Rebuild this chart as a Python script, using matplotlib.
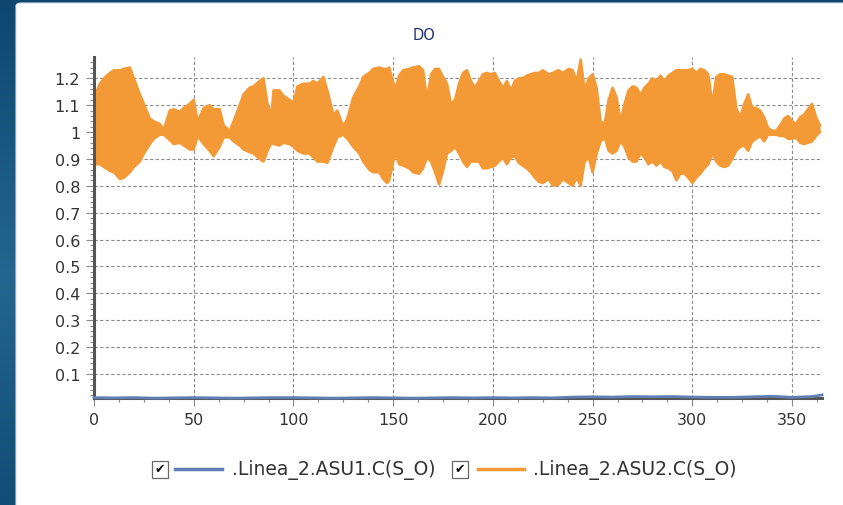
import numpy as np
import matplotlib
matplotlib.use("Agg")
import matplotlib.pyplot as plt
from matplotlib.lines import Line2D
from matplotlib.patches import FancyBboxPatch, Rectangle
from matplotlib.ticker import MultipleLocator, FuncFormatter

# ASU2 dissolved oxygen: upper / lower envelope of the oscillating signal
env_days = [0, 3, 5, 8, 10, 13, 15, 18, 20, 23, 25, 28, 30, 33, 35, 38, 40, 43, 45, 48,
            50, 52, 55, 58, 60, 63, 65, 68, 70, 73, 75, 78, 80, 83, 85, 87, 89, 90, 93, 95,
            98, 100, 102, 105, 108, 110, 112, 115, 117, 120, 122, 125, 127, 130, 133, 135,
            138, 140, 143, 145, 147, 148, 151, 153, 155, 158, 160, 163, 165, 167, 169, 171,
            173, 175, 177, 179, 181, 183, 185, 187, 189, 191, 193, 195, 197, 199, 201, 203,
            205, 207, 209, 211, 213, 215, 217, 219, 221, 223, 225, 228, 230, 233, 235, 238,
            240, 242, 244, 246, 248, 250, 252, 254, 256, 258, 260, 262, 264, 266, 268, 270,
            272, 274, 276, 278, 280, 282, 284, 286, 288, 290, 292, 294, 296, 298, 300, 302,
            304, 306, 308, 310, 312, 314, 316, 318, 320, 322, 324, 326, 328, 330, 332, 334,
            336, 338, 340, 342, 344, 346, 348, 350, 352, 354, 356, 358, 360, 362, 364]
asu2_high = [1.13, 1.18, 1.20, 1.22, 1.23, 1.23, 1.235, 1.24, 1.20, 1.14, 1.105, 1.05, 1.04,
             1.03, 1.01, 1.08, 1.085, 1.075, 1.09, 1.105, 1.12, 1.04, 1.09, 1.10, 1.085,
             1.085, 1.025, 1.005, 1.04, 1.10, 1.14, 1.165, 1.17, 1.19, 1.20, 1.105, 1.065,
             1.155, 1.155, 1.135, 1.12, 1.11, 1.17, 1.18, 1.18, 1.19, 1.18, 1.205, 1.155,
             1.065, 1.08, 1.02, 1.05, 1.13, 1.17, 1.205, 1.22, 1.235, 1.24, 1.235, 1.235,
             1.24, 1.16, 1.21, 1.23, 1.235, 1.24, 1.245, 1.23, 1.12, 1.215, 1.235, 1.235,
             1.205, 1.18, 1.105, 1.12, 1.18, 1.22, 1.23, 1.19, 1.165, 1.19, 1.215, 1.22,
             1.215, 1.22, 1.19, 1.165, 1.19, 1.155, 1.19, 1.20, 1.20, 1.21, 1.215, 1.22,
             1.22, 1.23, 1.215, 1.22, 1.23, 1.22, 1.235, 1.23, 1.19, 1.27, 1.155, 1.20,
             1.215, 1.165, 1.04, 1.03, 1.12, 1.165, 1.13, 1.04, 1.105, 1.155, 1.17, 1.165,
             1.14, 1.165, 1.18, 1.20, 1.19, 1.21, 1.19, 1.21, 1.22, 1.23, 1.23, 1.23, 1.23,
             1.235, 1.22, 1.235, 1.23, 1.215, 1.105, 1.205, 1.215, 1.215, 1.21, 1.205, 1.09,
             1.055, 1.105, 1.14, 1.09, 1.09, 1.08, 1.055, 1.015, 1.005, 1.005, 1.025, 1.05,
             1.06, 1.04, 1.03, 1.055, 1.065, 1.085, 1.105, 1.055, 1.025]
asu2_low = [0.88, 0.88, 0.87, 0.855, 0.85, 0.825, 0.83, 0.85, 0.87, 0.89, 0.92, 0.955, 0.975,
            0.99, 0.99, 0.97, 0.955, 0.96, 0.95, 0.935, 0.935, 0.985, 0.955, 0.93, 0.91,
            0.945, 0.98, 0.98, 0.965, 0.95, 0.935, 0.925, 0.92, 0.90, 0.89, 0.93, 0.96,
            0.955, 0.95, 0.96, 0.955, 0.945, 0.93, 0.92, 0.92, 0.905, 0.89, 0.89, 0.885,
            0.945, 0.98, 0.99, 0.975, 0.945, 0.92, 0.89, 0.86, 0.85, 0.85, 0.825, 0.81,
            0.82, 0.92, 0.88, 0.875, 0.865, 0.85, 0.845, 0.865, 0.905, 0.89, 0.85, 0.805,
            0.855, 0.92, 0.93, 0.945, 0.92, 0.89, 0.87, 0.89, 0.89, 0.89, 0.865, 0.865,
            0.87, 0.875, 0.89, 0.905, 0.88, 0.905, 0.91, 0.885, 0.875, 0.865, 0.85, 0.83,
            0.815, 0.81, 0.825, 0.80, 0.805, 0.825, 0.81, 0.80, 0.83, 0.80, 0.89, 0.905,
            0.85, 0.92, 0.965, 0.98, 0.93, 0.92, 0.93, 0.965, 0.945, 0.905, 0.89, 0.89,
            0.92, 0.905, 0.88, 0.89, 0.875, 0.89, 0.87, 0.865, 0.855, 0.82, 0.845, 0.845,
            0.83, 0.81, 0.83, 0.845, 0.865, 0.88, 0.92, 0.89, 0.875, 0.87, 0.875, 0.90,
            0.93, 0.945, 0.95, 0.93, 0.965, 0.975, 0.985, 0.965, 0.99, 0.99, 0.99, 0.985,
            0.985, 0.975, 0.975, 0.98, 0.96, 0.955, 0.96, 0.965, 0.985, 1.0]

# ASU1 dissolved oxygen (almost zero all year)
asu1_days = [0, 10, 20, 30, 40, 50, 60, 70, 80, 90, 100, 110, 120, 130, 140, 150, 160, 170,
             180, 190, 200, 210, 220, 230, 240, 250, 260, 270, 280, 290, 300, 310, 320, 330,
             340, 350, 360, 365]
asu1_vals = [0.012, 0.011, 0.012, 0.010, 0.011, 0.012, 0.011, 0.010, 0.011, 0.012, 0.012,
             0.011, 0.010, 0.011, 0.012, 0.011, 0.010, 0.011, 0.012, 0.011, 0.012, 0.011,
             0.012, 0.011, 0.014, 0.015, 0.014, 0.016, 0.015, 0.016, 0.014, 0.013, 0.013,
             0.015, 0.017, 0.013, 0.016, 0.022]

title = "DO"
label_asu1 = ".Linea_2.ASU1.C(S_O)"
label_asu2 = ".Linea_2.ASU2.C(S_O)"

ORANGE = "#f39a37"
BLUE = "#5f7fb6"

W, H = 843, 506
fig = plt.figure(figsize=(W / 100, H / 100), dpi=100)

# dark blue window background with white rounded panel
bg = fig.add_axes([0, 0, 1, 1])
grad = np.linspace(0, 1, 256)
shade = 1 - np.abs(grad - 0.55) * 1.6
bg.imshow(shade[:, None], aspect="auto", cmap=plt.cm.colors.LinearSegmentedColormap.from_list(
    "bgblue", ["#0a426a", "#24668f"]), extent=[0, 1, 0, 1], vmin=0, vmax=1)
bg.set_xlim(0, 1)
bg.set_ylim(0, 1)
bg.axis("off")
bg.add_patch(FancyBboxPatch((16 / W, -0.05), 1.0, 1 - 4 / H + 0.05,
                            boxstyle="round,pad=0,rounding_size=0.006",
                            facecolor="white", edgecolor="#d8dde3", linewidth=0.8,
                            transform=bg.transAxes))

ax = fig.add_axes([94 / W, 1 - 399.3 / H, (822 - 94) / W, (399.3 - 58.3) / H])
ax.set_facecolor("none")

ax.fill_between(env_days, asu2_low, asu2_high, color=ORANGE, linewidth=0, zorder=3)
ax.plot(env_days, asu2_high, color=ORANGE, linewidth=1.8, zorder=3)
ax.plot(env_days, asu2_low, color=ORANGE, linewidth=1.8, zorder=3)
ax.plot(asu1_days, asu1_vals, color=BLUE, linewidth=2, zorder=6, clip_on=False)

ax.set_xlim(0, 365)
ax.set_ylim(0.0095, 1.278)
ax.xaxis.set_major_locator(MultipleLocator(50))
ax.xaxis.set_minor_locator(MultipleLocator(12.5))
ax.yaxis.set_major_locator(MultipleLocator(0.1))
ax.yaxis.set_minor_locator(MultipleLocator(0.02))
ax.yaxis.set_major_formatter(FuncFormatter(lambda v, p: f"{v:g}"))

ax.grid(True, which="major", color="#8c8c8c", linestyle=(0, (3, 2)), linewidth=0.8, zorder=1)
for s in ["top", "right"]:
    ax.spines[s].set_visible(False)
for s in ["left", "bottom"]:
    ax.spines[s].set_color("#555555")
    ax.spines[s].set_linewidth(2.2)
    ax.spines[s].set_zorder(5)

ax.tick_params(which="major", length=6, width=0.8, color="#8a8a8a",
               labelsize=11.5, labelcolor="#333333", pad=4)
ax.tick_params(which="minor", length=3, width=0.8, color="#8a8a8a")

fig.text(424 / W, 1 - 35 / H, title, ha="center", va="center", fontsize=10.5,
         color="#23336b")

# legend with check boxes
leg_y = 1 - 470 / H
for bx, lx0, lx1, tx, col, lab in [(152, 175, 222, 232, BLUE, label_asu1),
                                   (452, 478, 524, 533, ORANGE, label_asu2)]:
    fig.add_artist(Rectangle((bx / W, 1 - 479 / H), 16 / W, 17 / H, transform=fig.transFigure,
                             facecolor="white", edgecolor="#6a6a6a", linewidth=0.9))
    fig.text((bx + 8) / W, leg_y, "\u2714", ha="center", va="center", fontsize=9,
             color="#111111")
    fig.add_artist(Line2D([lx0 / W, lx1 / W], [leg_y, leg_y], transform=fig.transFigure,
                          color=col, linewidth=2.5))
    fig.text(tx / W, leg_y, lab, ha="left", va="center", fontsize=13.5, color="#333333")

plt.savefig("out.png", dpi=100)
